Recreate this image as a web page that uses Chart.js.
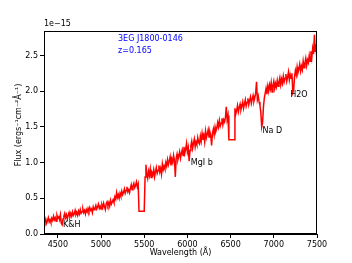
<!DOCTYPE html>
<html>
<head>
<meta charset="utf-8">
<script src="https://cdn.jsdelivr.net/npm/chart.js@4"></script>
<style>
  html, body { margin: 0; padding: 0; background: #fff; }
  #wrap { width: 352px; height: 263px; }
</style>
</head>
<body>
<div id="wrap"><canvas id="spec" width="352" height="263"></canvas></div>
<script>
// wavelength grid (Angstrom), one row per 100 A
const wavelengths = [
  4340, 4350, 4360, 4370, 4380, 4390, 4400, 4410, 4420, 4430,
  4440, 4450, 4460, 4470, 4480, 4490, 4500, 4510, 4520, 4530,
  4540, 4550, 4560, 4570, 4580, 4590, 4600, 4610, 4620, 4630,
  4640, 4650, 4660, 4670, 4680, 4690, 4700, 4710, 4720, 4730,
  4740, 4750, 4760, 4770, 4780, 4790, 4800, 4810, 4820, 4830,
  4840, 4850, 4860, 4870, 4880, 4890, 4900, 4910, 4920, 4930,
  4940, 4950, 4960, 4970, 4980, 4990, 5000, 5010, 5020, 5030,
  5040, 5050, 5060, 5070, 5080, 5090, 5100, 5110, 5120, 5130,
  5140, 5150, 5160, 5170, 5180, 5190, 5200, 5210, 5220, 5230,
  5240, 5250, 5260, 5270, 5280, 5290, 5300, 5310, 5320, 5330,
  5340, 5350, 5360, 5370, 5380, 5390, 5400, 5410, 5420, 5430,
  5440, 5450, 5460, 5470, 5480, 5490, 5500, 5510, 5520, 5530,
  5540, 5550, 5560, 5570, 5580, 5590, 5600, 5610, 5620, 5630,
  5640, 5650, 5660, 5670, 5680, 5690, 5700, 5710, 5720, 5730,
  5740, 5750, 5760, 5770, 5780, 5790, 5800, 5810, 5820, 5830,
  5840, 5850, 5860, 5870, 5880, 5890, 5900, 5910, 5920, 5930,
  5940, 5950, 5960, 5970, 5980, 5990, 6000, 6010, 6020, 6030,
  6040, 6050, 6060, 6070, 6080, 6090, 6100, 6110, 6120, 6130,
  6140, 6150, 6160, 6170, 6180, 6190, 6200, 6210, 6220, 6230,
  6240, 6250, 6260, 6270, 6280, 6290, 6300, 6310, 6320, 6330,
  6340, 6350, 6360, 6370, 6380, 6390, 6400, 6410, 6420, 6430,
  6440, 6450, 6460, 6470, 6480, 6490, 6500, 6510, 6520, 6530,
  6540, 6550, 6560, 6570, 6580, 6590, 6600, 6610, 6620, 6630,
  6640, 6650, 6660, 6670, 6680, 6690, 6700, 6710, 6720, 6730,
  6740, 6750, 6760, 6770, 6780, 6790, 6800, 6810, 6820, 6830,
  6840, 6850, 6860, 6870, 6880, 6890, 6900, 6910, 6920, 6930,
  6940, 6950, 6960, 6970, 6980, 6990, 7000, 7010, 7020, 7030,
  7040, 7050, 7060, 7070, 7080, 7090, 7100, 7110, 7120, 7130,
  7140, 7150, 7160, 7170, 7180, 7190, 7200, 7210, 7220, 7230,
  7240, 7250, 7260, 7270, 7280, 7290, 7300, 7310, 7320, 7330,
  7340, 7350, 7360, 7370, 7380, 7390, 7400, 7410, 7420, 7430,
  7440, 7450, 7460, 7470, 7480, 7490, 7500
];

// flux in units of 1e-15 (same rows as above)
const flux = [
  0.12, 0.17, 0.21, 0.15, 0.19, 0.23, 0.17, 0.20, 0.16, 0.22,
  0.19, 0.25, 0.20, 0.23, 0.18, 0.26, 0.22, 0.24, 0.20, 0.27,
  0.15, 0.13, 0.21, 0.25, 0.29, 0.23, 0.27, 0.21, 0.26, 0.30,
  0.24, 0.29, 0.25, 0.31, 0.26, 0.28, 0.33, 0.27, 0.30, 0.26,
  0.32, 0.28, 0.34, 0.29, 0.31, 0.35, 0.30, 0.33, 0.28, 0.34,
  0.31, 0.36, 0.32, 0.37, 0.33, 0.35, 0.30, 0.38, 0.34, 0.36,
  0.40, 0.35, 0.38, 0.42, 0.36, 0.39, 0.35, 0.41, 0.37, 0.43,
  0.38, 0.34, 0.42, 0.45, 0.40, 0.44, 0.39, 0.47, 0.42, 0.45,
  0.48, 0.44, 0.52, 0.49, 0.58, 0.51, 0.55, 0.50, 0.57, 0.53,
  0.60, 0.55, 0.58, 0.63, 0.57, 0.61, 0.66, 0.59, 0.62, 0.58,
  0.64, 0.69, 0.62, 0.67, 0.71, 0.65, 0.68, 0.73, 0.66, 0.70,
  0.32, 0.32, 0.32, 0.32, 0.32, 0.32, 0.32, 0.80, 0.97, 0.84,
  0.78, 0.88, 0.82, 0.91, 0.79, 0.86, 0.83, 0.90, 0.80, 0.87,
  0.93, 0.85, 0.89, 0.96, 0.87, 0.92, 0.84, 0.98, 0.90, 0.95,
  0.91, 1.00, 0.95, 1.04, 0.97, 1.02, 1.08, 0.96, 1.05, 1.00,
  1.10, 1.03, 0.80, 1.06, 1.12, 1.04, 1.09, 1.15, 1.06, 1.13,
  1.18, 1.10, 1.22, 1.13, 1.19, 1.27, 1.15, 1.21, 1.02, 1.17,
  1.24, 1.30, 1.20, 1.27, 1.33, 1.22, 1.29, 1.25, 1.35, 1.28,
  1.26, 1.37, 1.30, 1.41, 1.32, 1.38, 1.29, 1.44, 1.35, 1.40,
  1.46, 1.36, 1.43, 1.38, 1.24, 1.41, 1.47, 1.39, 1.50, 1.44,
  1.48, 1.56, 1.50, 1.59, 1.51, 1.55, 1.62, 1.53, 1.60, 1.57,
  1.63, 1.78, 1.60, 1.66, 1.32, 1.32, 1.32, 1.32, 1.32, 1.32,
  1.32, 1.76, 1.68, 1.73, 1.80, 1.71, 1.77, 1.82, 1.74, 1.79,
  1.85, 1.76, 1.82, 1.88, 1.79, 1.84, 1.90, 1.81, 1.87, 1.92,
  1.83, 1.89, 1.94, 1.86, 1.91, 1.97, 2.13, 1.88, 1.93, 1.85,
  1.80, 1.70, 1.50, 1.56, 1.78, 1.90, 1.97, 2.04, 1.96, 2.07,
  2.00, 2.09, 2.03, 2.12, 1.99, 2.08, 2.14, 2.04, 2.11, 2.06,
  2.15, 2.07, 2.13, 2.19, 2.09, 2.17, 2.11, 2.21, 2.13, 2.18,
  2.24, 2.14, 2.20, 2.27, 2.16, 2.23, 2.18, 2.25, 1.98, 2.02,
  2.20, 2.29, 2.23, 2.34, 2.26, 2.31, 2.38, 2.28, 2.35, 2.30,
  2.42, 2.33, 2.39, 2.46, 2.36, 2.44, 2.40, 2.50, 2.42, 2.56,
  2.47, 2.60, 2.52, 2.79, 2.55, 2.66, 2.38
];

const xTicks = [4500, 5000, 5500, 6000, 6500, 7000, 7500];
const yTicks = [0.0, 0.5, 1.0, 1.5, 2.0, 2.5];

const titleText = ['3EG J1800-0146', 'z=0.165'];
const lineLabels = ['K&H', 'MgI b', 'Na D', 'H2O'];
const lineLabelPos = [[4560, 0.13], [6040, 1.0], [6870, 1.44], [7190, 1.95]];

const FONT = 'DejaVu Sans';

const points = wavelengths.map((w, i) => ({ x: w, y: flux[i] }));

const textPlugin = {
  id: 'textPlugin',
  afterDraw(chart) {
    const ctx = chart.ctx;
    const area = chart.chartArea;
    const xs = chart.scales.x, ys = chart.scales.y;
    ctx.save();
    // frame: top and right spines
    ctx.strokeStyle = '#000';
    ctx.lineWidth = 1;
    ctx.strokeRect(area.left + 0.5, area.top + 0.5, area.right - area.left - 1, area.bottom - area.top - 1);

    ctx.font = '8px ' + FONT;
    ctx.fillStyle = '#000';
    ctx.textAlign = 'left';
    ctx.textBaseline = 'bottom';
    ctx.fillText('1e\u221215', area.left, area.top - 3);

    // blue object label
    ctx.fillStyle = '#0000ff';
    ctx.textBaseline = 'middle';
    ctx.fillText(titleText[0], 118, 39);
    ctx.fillText(titleText[1], 118, 50.5);

    // absorption line labels
    ctx.fillStyle = '#000';
    lineLabels.forEach((t, i) => {
      const p = lineLabelPos[i];
      ctx.fillText(t, xs.getPixelForValue(p[0]), ys.getPixelForValue(p[1]));
    });

    // axis titles
    ctx.textAlign = 'center';
    ctx.fillText('Wavelength (\u00c5)', (area.left + area.right) / 2, 253);
    ctx.translate(19, 125);
    ctx.rotate(-Math.PI / 2);
    ctx.fillText('Flux (ergs\u207b\u00b9cm\u207b\u00b2\u00c5\u207b\u00b9)', 0, 0);
    ctx.restore();
  }
};

new Chart(document.getElementById('spec'), {
  type: 'line',
  data: {
    datasets: [{
      data: points,
      borderColor: '#ff0000',
      borderWidth: 1.5,
      pointRadius: 0,
      tension: 0,
      fill: false
    }]
  },
  options: {
    responsive: false,
    animation: false,
    layout: { padding: { left: 0, top: 31, right: 35, bottom: 0 } },
    plugins: { legend: { display: false }, tooltip: { enabled: false } },
    scales: {
      x: {
        type: 'linear',
        min: 4340,
        max: 7500,
        afterFit(scale) { scale.height = 29; },
        afterBuildTicks(scale) { scale.ticks = xTicks.map(v => ({ value: v })); },
        grid: { drawOnChartArea: false, tickLength: 4, color: '#000' },
        border: { color: '#000' },
        ticks: {
          font: { family: FONT, size: 8 }, color: '#000', padding: 2, maxRotation: 0,
          callback: v => String(v)
        }
      },
      y: {
        min: 0,
        max: 2.843,
        afterFit(scale) { scale.width = 44; },
        afterBuildTicks(scale) { scale.ticks = yTicks.map(v => ({ value: v })); },
        grid: { drawOnChartArea: false, tickLength: 4, color: '#000' },
        border: { color: '#000' },
        ticks: {
          font: { family: FONT, size: 8 }, color: '#000', padding: 2,
          callback: v => v.toFixed(1)
        }
      }
    }
  },
  plugins: [textPlugin]
});
</script>
</body>
</html>
